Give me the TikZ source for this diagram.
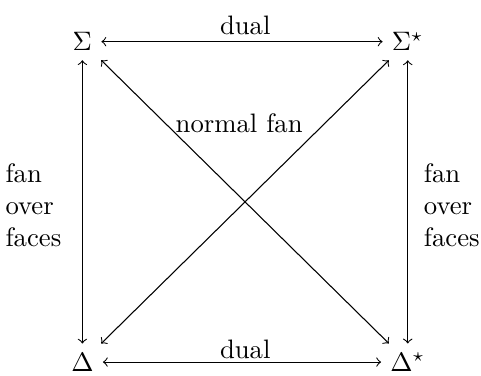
\documentclass[tikz,border=0pt]{standalone}
\usepackage{tikz}

\begin{document}
\begin{tikzpicture}[x=1cm,y=1cm]
\path[use as bounding box] (0,0) rectangle (6.335,4.939);
\node (Sig) at (1.085,4.39) {$\Sigma$};
\node (SigDual) at (5.37,4.39) {$\Sigma^\star$};
\node (Del) at (1.085,0.17) {$\Delta$};
\node (DelDual) at (5.37,0.17) {$\Delta^\star$};
\draw[<->] (Sig) -- (SigDual);
\draw[<->] (Del) -- (DelDual);
\draw[<->] (Sig) -- (Del);
\draw[<->] (SigDual) -- (DelDual);
\draw[<->] (Sig) -- (DelDual);
\draw[<->] (SigDual) -- (Del);
\node (dualTop) at (3.23,4.61) {dual};
\node (dualBot) at (3.23,0.34) {dual};
\node (normal) at (3.15,3.32) {normal fan};
\node[align=left] (fanL) at (0.44,2.24) {fan\\over\\faces};
\node[align=left] (fanR) at (5.95,2.24) {fan\\over\\faces};
\end{tikzpicture}
\end{document}
